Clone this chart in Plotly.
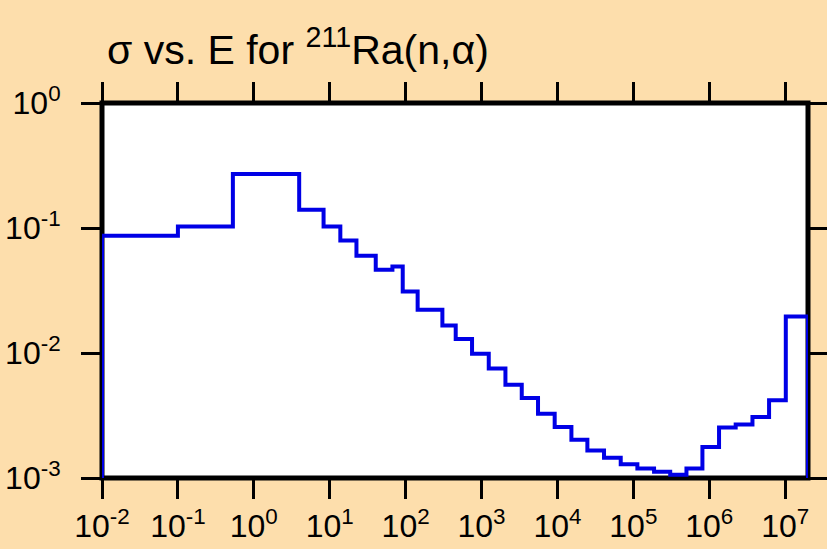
import math
import plotly.graph_objects as go

# bin edges (eV) and cross section per bin (b)
edges = [
    1e-2, 1e-1, 0.53, 3.96, 8.3, 13.8, 22.5, 40.4, 67.0, 91.6,
    144, 305, 457, 750, 1245, 2065, 3388, 5550, 9200, 15280,
    24800, 41100, 68200, 1.13e5, 1.875e5, 3.06e5, 5.01e5, 8.13e5,
    1.346e6, 2.23e6, 3.71e6, 6.14e6, 1.02e7, 2e7,
]
sigma = [
    0.0868, 0.103, 0.270, 0.140, 0.103, 0.0796, 0.060, 0.0464, 0.0493,
    0.0311, 0.0222, 0.01663, 0.01294, 0.00987, 0.00753, 0.00557,
    0.00436, 0.00327, 0.00256, 0.00202, 0.00166, 0.00145, 0.00129,
    0.00119, 0.00112, 0.00106, 0.00119, 0.00177, 0.00254, 0.00268,
    0.00308, 0.00418, 0.0196,
]
x_ticks = [1e-2, 1e-1, 1e0, 1e1, 1e2, 1e3, 1e4, 1e5, 1e6, 1e7]
x_labels = ["10<sup>-2</sup>", "10<sup>-1</sup>", "10<sup>0</sup>", "10<sup>1</sup>",
            "10<sup>2</sup>", "10<sup>3</sup>", "10<sup>4</sup>", "10<sup>5</sup>",
            "10<sup>6</sup>", "10<sup>7</sup>"]
y_ticks = [1e-3, 1e-2, 1e-1, 1e0]
y_labels = ["10<sup>-3</sup>", "10<sup>-2</sup>", "10<sup>-1</sup>", "10<sup>0</sup>"]
y_floor = 1e-3

BG = "#FDDEAC"
FONT = "Liberation Sans, Arial, sans-serif"

xs = [edges[0]] + edges + [edges[-1]]
ys = [y_floor] + sigma + [sigma[-1], y_floor]

fig = go.Figure(go.Scatter(
    x=xs, y=ys, mode="lines", line_shape="hv",
    line=dict(color="#0000E6", width=4),
    showlegend=False,
))

# heavy black frame centred on the plot edges, under the trace
fig.add_shape(type="rect", xref="x domain", yref="y domain", x0=0, x1=1, y0=0, y1=1,
              line=dict(color="black", width=5), layer="below")

axis_common = dict(
    type="log", showline=False, mirror="allticks",
    ticks="outside", ticklen=20, tickwidth=2.5, tickcolor="black",
    showgrid=False, zeroline=False, automargin=False,
    tickfont=dict(family=FONT, size=32, color="black"),
)

fig.update_layout(
    width=827, height=549,
    margin=dict(l=102, r=19, t=103, b=71, autoexpand=False),
    paper_bgcolor=BG, plot_bgcolor="white",
    title=dict(text="σ vs. E for <sup>211</sup>Ra(n,α)", x=107 / 827, xanchor="left",
               y=0.91, yanchor="middle", automargin=False,
               font=dict(family=FONT, size=41, color="black")),
    xaxis=dict(**axis_common, range=[-2, math.log10(2e7)],
               tickvals=x_ticks, ticktext=x_labels),
    yaxis=dict(**axis_common, range=[-3, 0], ticklabelstandoff=14,
               tickvals=y_ticks, ticktext=y_labels),
)

fig.write_html("out.html", config={"displayModeBar": False},
               post_script="document.body.style.margin='0px';")
